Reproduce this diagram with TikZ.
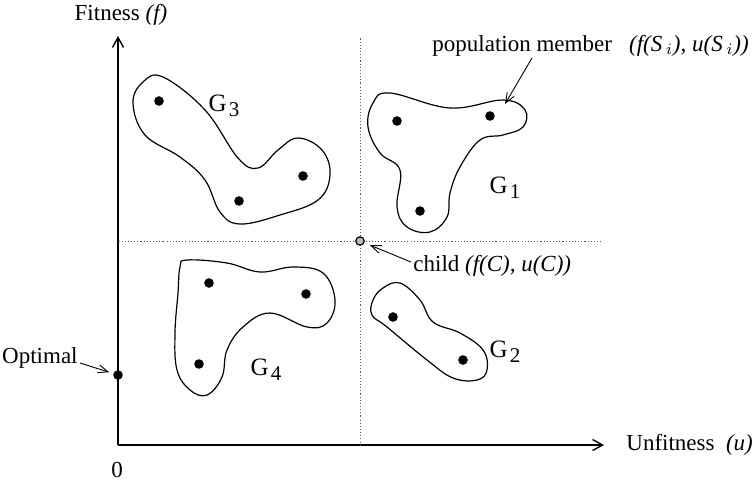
\documentclass[tikz,border=0pt]{standalone}
\usepackage{fontspec}
\setmainfont{Liberation Serif}
\usetikzlibrary{arrows.meta}

\newcommand{\grupo}[1]{G\kern1.2pt\raisebox{-0.45ex}{\fontsize{10.5}{11}\selectfont #1}}

\begin{document}
\begin{tikzpicture}[x=0.5pt, y=-0.5pt,
      punto/.style={circle, fill, inner sep=0pt, minimum size=4.8pt},
      hijo/.style={circle, draw, fill=gray!55, line width=0.6pt, inner sep=0pt, minimum size=4.2pt},
      eje/.style={line width=0.7pt, -{Straight Barb[length=5pt, width=5.5pt]}},
      guia/.style={gray!70!black, line width=0.4pt, dash pattern=on 0.9pt off 1.2pt on 0.3pt off 1.2pt on 0.3pt off 1.2pt on 0.3pt off 1.2pt on 0.3pt off 1.2pt on 0.3pt off 1.2pt on 0.3pt off 1.2pt},
      flecha/.style={line width=0.45pt, -{Straight Barb[length=5pt, width=4pt]}},
      region/.style={line width=0.6pt},
      texto/.style={font=\fontsize{11.5}{13}\selectfont, inner sep=1pt},
      etiqueta/.style={font=\fontsize{12.5}{14}\selectfont, inner sep=1pt}
    ]
    \useasboundingbox (0,0) rectangle (755,483);

    %Ejes y textos
    \coordinate (o) at (118,445);
    \coordinate (ytop) at (118,36);
    \coordinate (xend) at (604,445);
    \draw[eje] (o) -- (ytop);
    \draw[eje] (o) -- (xend);
    \node[texto] (fit) at (121,15) {Fitness \textit{(f)}};
    \node[texto, anchor=west] (unfit) at (624,445) {Unfitness\ \ \textit{(u)}};
    \node[texto] (cero) at (117,470) {0};

    %Lineas guia del hijo
    \coordinate (vtop) at (360,38);
    \coordinate (vbot) at (360,445);
    \coordinate (hizq) at (118,241);
    \coordinate (hder) at (603,241);
    \draw[guia] (vtop) -- (vbot);
    \draw[guia] (hizq) -- (hder);

    %Regiones
    \draw[region] plot[smooth cycle, tension=0.65] coordinates {
      (163,77) (205,110) (238,158) (258,168) (278,150) (298,138) (322,150)
      (330,175) (318,200) (280,215) (240,224) (220,212) (205,180) (180,157)
      (145,135) (133,103) (143,82)};
    \draw[region] plot[smooth cycle, tension=0.65] coordinates {
      (390,93) (450,108) (503,100) (525,110) (523,127) (503,135) (480,140)
      (460,167) (450,193) (447,217) (430,232) (407,227) (397,207) (400,170)
      (380,153) (368,127) (373,103)};
    \draw[region] plot[smooth cycle, tension=0.65] coordinates {
      (187,260) (227,263) (260,272) (293,267) (323,273) (335,300) (327,323)
      (307,327) (270,313) (243,327) (227,350) (222,377) (207,395) (190,390)
      (177,370) (175,333) (178,293) (180,267)};
    \draw[region] plot[smooth cycle, tension=0.65] coordinates {
      (383,288) (400,283) (420,300) (433,322) (460,333) (483,350) (487,370)
      (477,380) (453,378) (427,360) (387,327) (372,315) (373,300)};

    %Miembros de la poblacion
    \node[punto] (g3a) at (159,101) {};
    \node[punto] (g3b) at (303,176) {};
    \node[punto] (g3c) at (239,201) {};
    \node[punto] (g1a) at (397,121) {};
    \node[punto] (g1b) at (490,116) {};
    \node[punto] (g1c) at (420,211) {};
    \node[punto] (g4a) at (209,283) {};
    \node[punto] (g4b) at (306,294) {};
    \node[punto] (g4c) at (199,364) {};
    \node[punto] (g2a) at (393,317) {};
    \node[punto] (g2b) at (463,360) {};
    \node[punto] (opt) at (118,375) {};

    %Nombres de los grupos
    \node[etiqueta] (g3) at (224,106) {\grupo{3}};
    \node[etiqueta] (g1) at (505,188) {\grupo{1}};
    \node[etiqueta] (g4) at (266,370) {\grupo{4}};
    \node[etiqueta] (g2) at (505,352) {\grupo{2}};

    %Hijo y miembro
    \node[hijo] (c) at (360,241) {};
    \node[texto, anchor=west] (clab) at (411,266) {child \textit{(f(C), u(C))}};
    \draw[flecha, shorten >=3pt] ([yshift=2pt]clab.west) -- (c);
    \node[texto, anchor=base west] (plab) at (430,51) {population member\ \ \ \textit{(f(S\,$_i$), u(S\,$_i$))}};
    \coordinate (pcola) at (532,58);
    \coordinate (pcabeza) at (505,104);
    \draw[flecha] (pcola) -- (pcabeza);

    %Optimo
    \node[texto, anchor=east] (optlab) at (80,358) {Optimal};
    \draw[flecha, shorten >=2pt] ([yshift=-2.5pt]optlab.east) -- (opt);
\end{tikzpicture}
\end{document}
